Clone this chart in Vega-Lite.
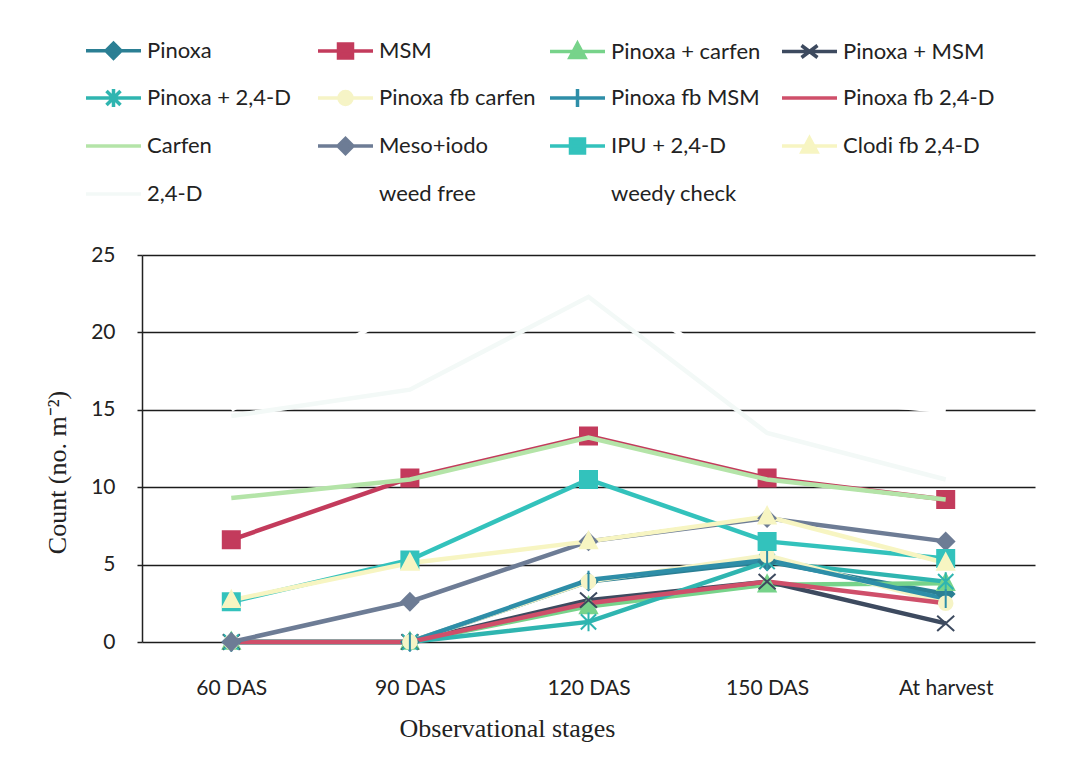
{
  "$schema": "https://vega.github.io/schema/vega-lite/v6.json",
  "width": 893,
  "height": 387,
  "autosize": {"type": "none"},
  "padding": {"left": 142, "top": 255, "right": 42, "bottom": 120},
  "background": "white",
  "config": {
    "view": {"stroke": null},
    "font": "Lato"
  },
  "data": {
    "values": [
      {"series": "Pinoxa", "60 DAS": 0, "90 DAS": 0, "120 DAS": 3.9, "150 DAS": 5.2, "At harvest": 3.1},
      {"series": "MSM", "60 DAS": 6.6, "90 DAS": 10.6, "120 DAS": 13.3, "150 DAS": 10.6, "At harvest": 9.2},
      {"series": "Pinoxa + carfen", "60 DAS": 0, "90 DAS": 0, "120 DAS": 2.3, "150 DAS": 3.7, "At harvest": 3.8},
      {"series": "Pinoxa + MSM", "60 DAS": 0, "90 DAS": 0, "120 DAS": 2.7, "150 DAS": 3.9, "At harvest": 1.2},
      {"series": "Pinoxa + 2,4-D", "60 DAS": 0, "90 DAS": 0, "120 DAS": 1.3, "150 DAS": 5.2, "At harvest": 3.9},
      {"series": "Pinoxa fb carfen", "60 DAS": 0, "90 DAS": 0, "120 DAS": 3.9, "150 DAS": 5.6, "At harvest": 2.5},
      {"series": "Pinoxa fb MSM", "60 DAS": 0, "90 DAS": 0, "120 DAS": 4.0, "150 DAS": 5.3, "At harvest": 2.8},
      {"series": "Pinoxa fb 2,4-D", "60 DAS": 0, "90 DAS": 0, "120 DAS": 2.5, "150 DAS": 3.9, "At harvest": 2.5},
      {"series": "Carfen", "60 DAS": 9.3, "90 DAS": 10.5, "120 DAS": 13.2, "150 DAS": 10.5, "At harvest": 9.2},
      {"series": "Meso+iodo", "60 DAS": 0, "90 DAS": 2.6, "120 DAS": 6.5, "150 DAS": 8.0, "At harvest": 6.5},
      {"series": "IPU + 2,4-D", "60 DAS": 2.6, "90 DAS": 5.3, "120 DAS": 10.5, "150 DAS": 6.5, "At harvest": 5.4},
      {"series": "Clodi fb 2,4-D", "60 DAS": 2.7, "90 DAS": 5.1, "120 DAS": 6.5, "150 DAS": 8.1, "At harvest": 5.1},
      {"series": "2,4-D", "60 DAS": 14.6, "90 DAS": 16.3, "120 DAS": 22.3, "150 DAS": 13.5, "At harvest": 10.5},
      {"series": "weed free", "60 DAS": 0, "90 DAS": 0, "120 DAS": 0, "150 DAS": 0, "At harvest": 0},
      {"series": "weedy check", "60 DAS": 15, "90 DAS": 21.8, "120 DAS": 24, "150 DAS": 16, "At harvest": 14.9}
    ]
  },
  "transform": [
    {"fold": ["60 DAS", "90 DAS", "120 DAS", "150 DAS", "At harvest"], "as": ["stage", "count"]}
  ],
  "encoding": {
    "x": {
      "field": "stage",
      "type": "nominal",
      "sort": ["60 DAS", "90 DAS", "120 DAS", "150 DAS", "At harvest"],
      "scale": {"type": "point", "padding": 0.5},
      "axis": {
        "title": "Observational stages",
        "titleFont": "Liberation Serif",
        "titleFontSize": 26,
        "titleFontWeight": "normal",
        "titleColor": "#222",
        "titleX": 365,
        "titleY": 86,
        "titleBaseline": "middle",
        "titleAnchor": "middle",
        "labelAngle": 0,
        "labelFont": "Lato",
        "labelFontSize": 21,
        "labelColor": "#222",
        "labelPadding": 35,
        "domain": false,
        "ticks": false,
        "tickSize": 0,
        "grid": false
      }
    },
    "y": {
      "field": "count",
      "type": "quantitative",
      "scale": {"domain": [0, 25], "nice": false},
      "axis": {
        "title": "Count (no. m⁻²)",
        "titleFont": "Liberation Serif",
        "titleFontSize": 26,
        "titleFontWeight": "normal",
        "titleColor": "#222",
        "titleX": -85,
        "titleY": 217,
        "titleAngle": -90,
        "titleBaseline": "middle",
        "titleAnchor": "middle",
        "values": [0, 5, 10, 15, 20, 25],
        "labelFont": "Lato",
        "labelFontSize": 21,
        "labelColor": "#222",
        "labelPadding": 22,
        "tickSize": 5,
        "tickColor": "#222",
        "tickWidth": 1.5,
        "domainColor": "#222",
        "domainWidth": 1.5,
        "grid": true,
        "gridColor": "#1c1c1c",
        "gridWidth": 1.6
      }
    },
    "color": {
      "field": "series",
      "type": "nominal",
      "scale": {
        "domain": ["Pinoxa", "MSM", "Pinoxa + carfen", "Pinoxa + MSM", "Pinoxa + 2,4-D", "Pinoxa fb carfen", "Pinoxa fb MSM", "Pinoxa fb 2,4-D", "Carfen", "Meso+iodo", "IPU + 2,4-D", "Clodi fb 2,4-D", "2,4-D", "weed free", "weedy check"],
        "range": ["#2b7f94", "#c33b5c", "#77d38a", "#3d4a5f", "#2fb5b0", "#f6f4c6", "#2e8ea8", "#cf4f6a", "#b4e4a8", "#6d7c95", "#33c2bc", "#f7f5c2", "#f3f9f7", "#ffffff", "#ffffff"]
      },
      "legend": {
        "title": null,
        "orient": "none",
        "legendX": -40.5,
        "legendY": -217,
        "direction": "horizontal",
        "columns": 4,
        "gridAlign": "all",
        "columnPadding": 6,
        "rowPadding": 16,
        "padding": 0,
        "symbolSize": 400,
        "symbolStrokeWidth": 3.5,
        "labelOffset": 21.5,
        "labelFont": "Lato",
        "labelFontSize": 22,
        "labelColor": "#222",
        "labelLimit": 400,
        "encode": {
          "symbols": {
            "update": {
              "shape": {"signal": "['M-2.75,0H2.75M0,-0.75L0.75,0L0,0.75L-0.75,0Z','M-2.75,0H2.75M-0.7,-0.7H0.7V0.7H-0.7Z','M-2.75,0H2.75M0,-0.8L0.75,0.6H-0.75Z','M-2.75,0H2.75M-0.8,-0.6L0.8,0.6M-0.8,0.6L0.8,-0.6','M-2.75,0H2.75M-0.7,-0.7L0.7,0.7M-0.7,0.7L0.7,-0.7M0,-0.9V0.9','M-2.75,0H2.75M0.65,0A0.65,0.65 0 1 1 -0.65,0A0.65,0.65 0 1 1 0.65,0Z','M-2.75,0H2.75M0,-0.9V0.9','M-2.75,0H2.75','M-2.75,0H2.75','M-2.75,0H2.75M0,-0.75L0.75,0L0,0.75L-0.75,0Z','M-2.75,0H2.75M-0.7,-0.7H0.7V0.7H-0.7Z','M-2.75,0H2.75M0,-0.8L0.75,0.6H-0.75Z','M-2.75,0H2.75','M-2.75,0H2.75','M-2.75,0H2.75'][datum.index]"},
              "fill": {"scale": "color", "field": "value"},
              "stroke": {"scale": "color", "field": "value"},
              "strokeWidth": {"value": 3.5},
              "opacity": {"value": 1},
              "fillOpacity": {"value": 1},
              "strokeOpacity": {"value": 1}
            }
          }
        }
      }
    }
  },
  "layer": [
    {
      "transform": [{"filter": {"field": "series", "oneOf": ["Pinoxa", "MSM", "Pinoxa + carfen", "Pinoxa + MSM", "Pinoxa + 2,4-D", "Pinoxa fb carfen", "Pinoxa fb MSM", "Pinoxa fb 2,4-D"]}}],
      "mark": {"type": "line", "strokeWidth": 4.5},
      "encoding": {}
    },
    {
      "transform": [{"filter": {"field": "series", "oneOf": ["Pinoxa", "MSM", "Pinoxa + carfen", "Pinoxa + MSM", "Pinoxa + 2,4-D", "Pinoxa fb carfen", "Pinoxa fb MSM"]}}],
      "mark": {"type": "point", "filled": true, "size": 289, "strokeWidth": 2, "opacity": 1},
      "encoding": {
        "shape": {
          "field": "series",
          "type": "nominal",
          "scale": {
            "domain": ["Pinoxa", "MSM", "Pinoxa + carfen", "Pinoxa + MSM", "Pinoxa + 2,4-D", "Pinoxa fb carfen", "Pinoxa fb MSM", "Meso+iodo", "IPU + 2,4-D", "Clodi fb 2,4-D"],
            "range": ["M0,-1L1,0L0,1L-1,0Z", "M-1,-1H1V1H-1Z", "M0,-1.1L1,0.8H-1Z", "M-1,-0.9L1,0.9M-1,0.9L1,-0.9", "M-0.9,-0.9L0.9,0.9M-0.9,0.9L0.9,-0.9M0,-1.1V1.1", "M0.8,0A0.8,0.8 0 1 1 -0.8,0A0.8,0.8 0 1 1 0.8,0Z", "M0,-1.1V1.1", "M0,-1L1,0L0,1L-1,0Z", "M-1,-1H1V1H-1Z", "M0,-1.1L1,0.8H-1Z"]
          },
          "legend": null
        },
        "stroke": {
          "field": "series",
          "type": "nominal",
          "scale": {
            "domain": ["Pinoxa", "MSM", "Pinoxa + carfen", "Pinoxa + MSM", "Pinoxa + 2,4-D", "Pinoxa fb carfen", "Pinoxa fb MSM", "Pinoxa fb 2,4-D", "Carfen", "Meso+iodo", "IPU + 2,4-D", "Clodi fb 2,4-D", "2,4-D", "weed free", "weedy check"],
            "range": ["#2b7f94", "#c33b5c", "#77d38a", "#3d4a5f", "#2fb5b0", "#f6f4c6", "#2e8ea8", "#cf4f6a", "#b4e4a8", "#6d7c95", "#33c2bc", "#f7f5c2", "#f3f9f7", "#ffffff", "#ffffff"]
          },
          "legend": null
        }
      }
    },
    {
      "transform": [{"filter": {"field": "series", "oneOf": ["Carfen", "Meso+iodo", "IPU + 2,4-D", "Clodi fb 2,4-D", "2,4-D", "weed free", "weedy check"]}}],
      "mark": {"type": "line", "strokeWidth": 4.5},
      "encoding": {
        "strokeOpacity": {"condition": {"test": "datum.series === 'weed free'", "value": 0}, "value": 1}
      }
    },
    {
      "transform": [{"filter": {"field": "series", "oneOf": ["Meso+iodo", "IPU + 2,4-D", "Clodi fb 2,4-D"]}}],
      "mark": {"type": "point", "filled": true, "size": 289, "strokeWidth": 2, "opacity": 1},
      "encoding": {
        "shape": {
          "field": "series",
          "type": "nominal",
          "legend": null
        },
        "stroke": {
          "field": "series",
          "type": "nominal",
          "legend": null
        }
      }
    }
  ]
}
